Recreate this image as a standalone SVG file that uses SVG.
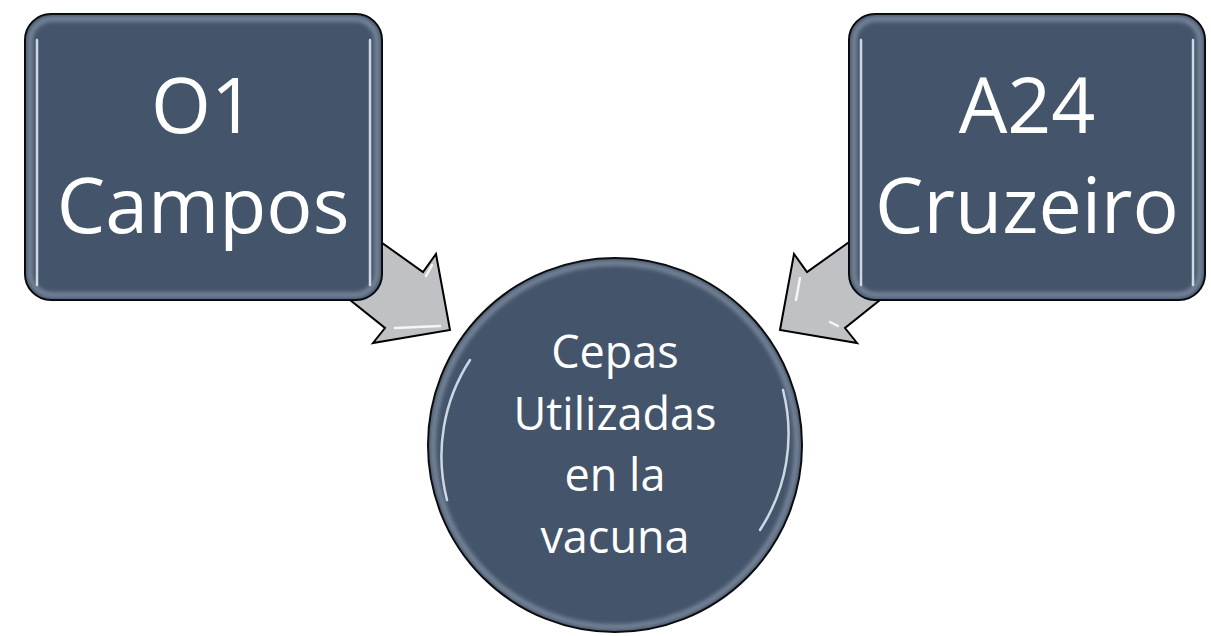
<svg xmlns="http://www.w3.org/2000/svg" width="1211" height="636" viewBox="0 0 1211 636">
<style>
.node{fill:#44546A;stroke:#000;stroke-width:2}
.bevel{fill:none;stroke:#A9B6C8;stroke-width:5;opacity:0.55;filter:url(#blur)}
.hl{fill:none;stroke:#DDE7F3;stroke-width:2.5;stroke-linecap:round;opacity:0.9}
.arrow{fill:#BFC1C5;stroke:#000;stroke-width:2;stroke-linejoin:miter}
.ahl{fill:none;stroke:#fff;stroke-width:2.5;stroke-linecap:round;opacity:0.85}
.big{font-family:"Open Sans","Liberation Sans",sans-serif;font-size:77px;fill:#fff;text-anchor:middle}
.mid{font-family:"Open Sans","Liberation Sans",sans-serif;font-size:45px;fill:#fff;text-anchor:middle}
</style>
<defs>
<filter id="blur" x="-10%" y="-10%" width="120%" height="120%"><feGaussianBlur stdDeviation="2"/></filter>
<linearGradient id="ag" x1="0" y1="0" x2="1" y2="1">
<stop offset="0" stop-color="#C9CBCF"/><stop offset="1" stop-color="#B4B6BA"/>
</linearGradient>
</defs>
<g id="connectors">
<polygon class="arrow" points="340,213 423,272 436,254 450,330 373,343 385,328 310,268" fill="url(#ag)"/>
<path class="ahl" d="M426,276 L432,265 M395,328 L440,326"/>
<polygon class="arrow" points="890,213 807,272 794,254 780,330 857,343 845,328 920,268" fill="url(#ag)"/>
<path class="ahl" d="M800,278 L796,300 M830,322 L838,326"/>
</g>
<g id="node-o1">
<rect class="node" x="25" y="14" width="357" height="286" rx="26"/>
<rect class="bevel" x="30" y="19" width="347" height="276" rx="22"/>
<path class="hl" d="M37,40 L37,285 M370,40 L370,285"/>
<text class="big" x="203" y="133">O1</text>
<text class="big" x="203" y="233">Campos</text>
</g>
<g id="node-a24">
<rect class="node" x="849" y="14" width="356" height="286" rx="26"/>
<rect class="bevel" x="854" y="19" width="346" height="276" rx="22"/>
<path class="hl" d="M861,40 L861,285 M1193,40 L1193,285"/>
<text class="big" x="1027" y="133">A24</text>
<text class="big" x="1027" y="233">Cruzeiro</text>
</g>
<g id="node-center">
<circle class="node" cx="615" cy="445" r="187"/>
<circle class="bevel" cx="615" cy="445" r="182"/>
<path class="hl" d="M447,500 A176,176 0 0 1 470,360 M783,390 A176,176 0 0 1 760,530"/>
<text class="mid" x="615" y="368">Cepas</text>
<text class="mid" x="615" y="430">Utilizadas</text>
<text class="mid" x="615" y="491">en la</text>
<text class="mid" x="615" y="553">vacuna</text>
</g>
</svg>
